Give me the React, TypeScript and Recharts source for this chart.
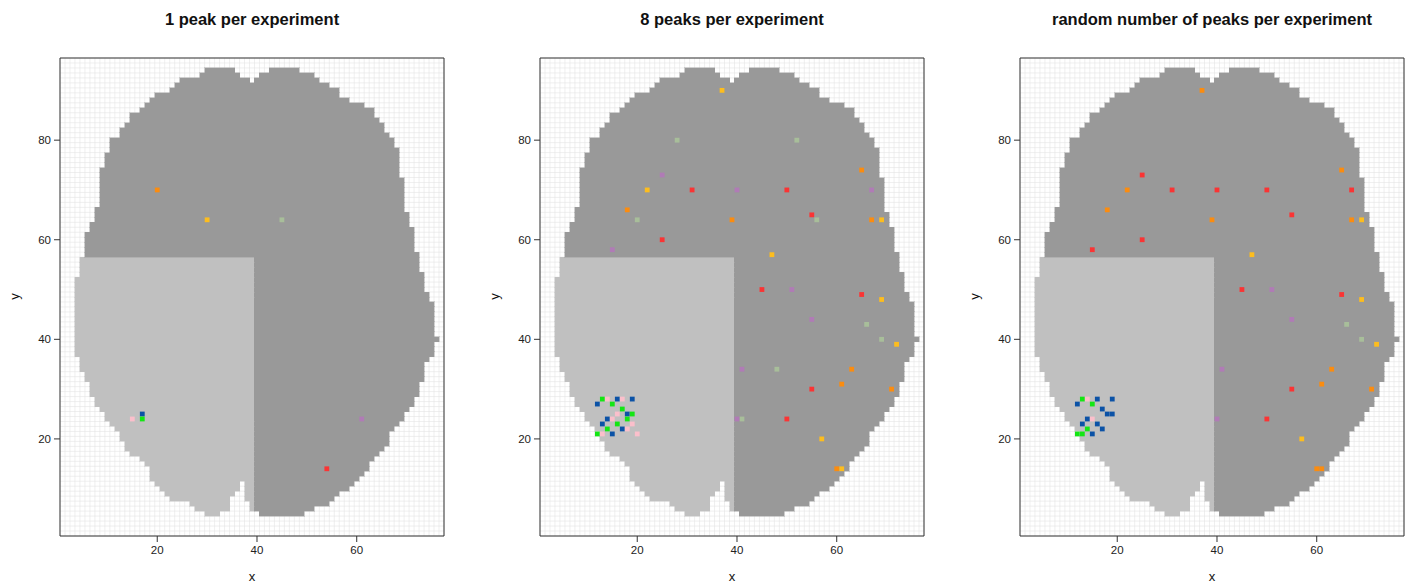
import React from 'react';
import { ScatterChart, Scatter, XAxis, YAxis, CartesianGrid, ReferenceArea } from 'recharts';

// mask of the slice: first and last filled column for rows y = 5 .. 94
const firstRow = 5;
const leftEdge = [
  30, 28, 27, 23, 22, 21, 20, 19, 19, 19,
  18, 17, 15, 14, 14, 13, 13, 12, 11, 10,
  10, 9, 8, 8, 7, 7, 7, 6, 6, 5,
  5, 5, 4, 4, 4, 4, 4, 4, 4, 4,
  4, 4, 4, 4, 4, 4, 4, 4, 5, 5,
  5, 5, 6, 6, 6, 6, 6, 7, 7, 8,
  8, 8, 9, 9, 9, 9, 9, 9, 9, 9,
  10, 10, 10, 11, 11, 11, 13, 13, 14, 15,
  15, 17, 18, 19, 20, 23, 24, 25, 29, 30,
];
const rightEdge = [
  49, 51, 54, 55, 56, 58, 59, 60, 61, 62,
  62, 63, 64, 65, 66, 66, 66, 67, 68, 69,
  69, 70, 71, 71, 72, 72, 72, 73, 73, 73,
  73, 74, 75, 75, 75, 76, 75, 75, 75, 75,
  75, 75, 75, 74, 74, 73, 73, 73, 73, 72,
  72, 72, 72, 71, 71, 71, 71, 71, 70, 70,
  70, 69, 69, 69, 69, 69, 69, 69, 68, 68,
  68, 68, 68, 68, 67, 67, 66, 65, 65, 64,
  63, 63, 61, 58, 56, 56, 54, 52, 51, 48,
];
// empty cells inside a row: [y, fromX, toX]
const gaps = [
  [5, 33, 40], [6, 35, 38], [7, 35, 38], [8, 35, 37], [9, 36, 37], [10, 37, 37], [11, 37, 37],
  [92, 39, 39], [93, 37, 40], [94, 36, 42],
];
// lighter region (lower left quarter)
const lightTop = 56;
const lightRight = 39;

const xTicks = [20, 40, 60];
const yTicks = [20, 40, 60, 80];
const xDomain = [0.5, 77.5];
const yDomain = [0.5, 96.5];

const expColors: Record<string, string> = {
  red: '#FA3434',
  orange: '#FB8C0F',
  gold: '#FDBD1E',
  sage: '#A8BE9A',
  violet: '#B07BB6',
  blue: '#0B52A6',
  green: '#14E614',
  pink: '#FBBFCB',
};

const onePeak: [number, number, string][] = [
  [20, 70, 'orange'], [30, 64, 'gold'], [45, 64, 'sage'], [17, 25, 'blue'],
  [17, 24, 'green'], [15, 24, 'pink'], [61, 24, 'violet'], [54, 14, 'red'],
];

const eightPeaks: [number, number, string][] = [
  [31, 70, 'red'], [25, 60, 'red'], [50, 70, 'red'], [55, 65, 'red'], [45, 50, 'red'], [65, 49, 'red'], [55, 30, 'red'], [50, 24, 'red'],
  [18, 66, 'orange'], [39, 64, 'orange'], [65, 74, 'orange'], [67, 64, 'orange'], [63, 34, 'orange'], [61, 31, 'orange'], [71, 30, 'orange'], [60, 14, 'orange'],
  [37, 90, 'gold'], [22, 70, 'gold'], [69, 64, 'gold'], [47, 57, 'gold'], [69, 48, 'gold'], [72, 39, 'gold'], [57, 20, 'gold'], [61, 14, 'gold'],
  [28, 80, 'sage'], [20, 64, 'sage'], [52, 80, 'sage'], [56, 64, 'sage'], [66, 43, 'sage'], [69, 40, 'sage'], [48, 34, 'sage'], [41, 24, 'sage'],
  [25, 73, 'violet'], [40, 70, 'violet'], [15, 58, 'violet'], [67, 70, 'violet'], [51, 50, 'violet'], [55, 44, 'violet'], [41, 34, 'violet'], [40, 24, 'violet'],
  [16, 28, 'blue'], [19, 28, 'blue'], [12, 27, 'blue'], [18, 25, 'blue'], [14, 24, 'blue'], [13, 23, 'blue'], [17, 22, 'blue'], [15, 21, 'blue'],
  [13, 28, 'green'], [15, 27, 'green'], [17, 26, 'green'], [19, 25, 'green'], [18, 24, 'green'], [16, 23, 'green'], [14, 22, 'green'], [12, 21, 'green'],
  [14, 28, 'pink'], [17, 28, 'pink'], [16, 25, 'pink'], [15, 24, 'pink'], [19, 23, 'pink'], [18, 22, 'pink'], [13, 21, 'pink'], [20, 21, 'pink'],
];

const randomPeaks: [number, number, string][] = [
  [37, 90, 'orange'], [22, 70, 'orange'], [18, 66, 'orange'], [39, 64, 'orange'], [65, 74, 'orange'], [67, 64, 'orange'],
  [63, 34, 'orange'], [61, 31, 'orange'], [71, 30, 'orange'], [60, 14, 'orange'], [61, 14, 'orange'],
  [25, 73, 'red'], [31, 70, 'red'], [40, 70, 'red'], [25, 60, 'red'], [15, 58, 'red'], [50, 70, 'red'],
  [67, 70, 'red'], [55, 65, 'red'], [45, 50, 'red'], [65, 49, 'red'], [55, 30, 'red'], [50, 24, 'red'],
  [69, 64, 'gold'], [47, 57, 'gold'], [69, 48, 'gold'], [72, 39, 'gold'], [57, 20, 'gold'],
  [51, 50, 'violet'], [55, 44, 'violet'], [41, 34, 'violet'], [40, 24, 'violet'],
  [66, 43, 'sage'], [69, 40, 'sage'],
  [16, 28, 'blue'], [19, 28, 'blue'], [12, 27, 'blue'], [17, 26, 'blue'], [18, 25, 'blue'], [19, 25, 'blue'],
  [14, 24, 'blue'], [13, 23, 'blue'], [16, 23, 'blue'], [17, 22, 'blue'], [15, 21, 'blue'],
  [13, 28, 'green'], [15, 27, 'green'], [14, 22, 'green'], [12, 21, 'green'], [13, 21, 'green'],
  [14, 28, 'pink'], [15, 24, 'pink'],
];

const panels = [
  { title: '1 peak per experiment', peaks: onePeak },
  { title: '8 peaks per experiment', peaks: eightPeaks },
  { title: 'random number of peaks per experiment', peaks: randomPeaks },
];

const DARK = '#999999';
const LIGHT = '#C0C0C0';
const FONT = '"Liberation Sans", Arial, Helvetica, sans-serif';

// build horizontal runs of filled cells
type Span = { y: number; x1: number; x2: number; light: boolean };
const spans: Span[] = [];
leftEdge.forEach((l, i) => {
  const y = firstRow + i;
  let pieces: number[][] = [[l, rightEdge[i]]];
  gaps.filter((g) => g[0] === y).forEach(([, a, b]) => {
    pieces = pieces.flatMap(([s, e]) => {
      if (b < s || a > e) return [[s, e]];
      const out: number[][] = [];
      if (a > s) out.push([s, a - 1]);
      if (b < e) out.push([b + 1, e]);
      return out;
    });
  });
  pieces.forEach(([s, e]) => {
    if (y <= lightTop && s <= lightRight) {
      spans.push({ y, x1: s, x2: Math.min(e, lightRight), light: true });
      if (e > lightRight) spans.push({ y, x1: lightRight + 1, x2: e, light: false });
    } else {
      spans.push({ y, x1: s, x2: e, light: false });
    }
  });
});

const gridX: number[] = [];
for (let v = xDomain[0]; v <= xDomain[1]; v += 1) gridX.push(v);
const gridY: number[] = [];
for (let v = yDomain[0]; v <= yDomain[1]; v += 1) gridY.push(v);

const colorKeys = Object.keys(expColors);

const cellShape = (color: string) => (props: any) => {
  const { cx, cy } = props;
  if (cx == null || cy == null) return <g />;
  return <rect x={cx - 2.4} y={cy - 2.4} width={4.8} height={4.8} fill={color} />;
};

const areaShape = (color: string) => (props: any) => (
  <rect x={props.x} y={props.y} width={props.width} height={props.height} fill={color}
    stroke={color} strokeWidth={0.4} shapeRendering="crispEdges" />
);
const darkShape = areaShape(DARK);
const lightShape = areaShape(LIGHT);

const mapX = (p: any) => {
  const sc = p.xAxis && p.xAxis.scale;
  if (typeof sc === 'function') return gridX.map((v) => sc(v));
  const o = p.offset;
  return gridX.map((v) => o.left + ((v - xDomain[0]) / (xDomain[1] - xDomain[0])) * o.width);
};
const mapY = (p: any) => {
  const sc = p.yAxis && p.yAxis.scale;
  if (typeof sc === 'function') return gridY.map((v) => sc(v));
  const o = p.offset;
  return gridY.map((v) => o.top + ((yDomain[1] - v) / (yDomain[1] - yDomain[0])) * o.height);
};

const Panel: React.FC<{ title: string; peaks: [number, number, string][]; left: number }> = ({ title, peaks, left }) => (
  <div style={{ position: 'absolute', left, top: 0, width: 480, height: 588 }}>
    <div style={{ position: 'absolute', left: 0, width: 504, top: 10, textAlign: 'center', fontFamily: FONT, fontWeight: 'bold', fontSize: 16.5, color: '#111' }}>
      {title}
    </div>
    <ScatterChart width={480} height={588} margin={{ top: 52, right: 30, bottom: 0, left: 0 }}>
      <CartesianGrid stroke="#E4E4E4" strokeWidth={0.6}
        verticalCoordinatesGenerator={mapX} horizontalCoordinatesGenerator={mapY} />
      <XAxis xAxisId={0} type="number" dataKey="x" domain={xDomain} ticks={xTicks} allowDataOverflow height={52}
        tickSize={6} tickMargin={4} axisLine={{ stroke: '#333' }} tickLine={{ stroke: '#333' }}
        tick={{ fontSize: 11.5, fill: '#222', fontFamily: FONT }} />
      <YAxis yAxisId={0} type="number" dataKey="y" domain={yDomain} ticks={yTicks} allowDataOverflow width={60}
        tickSize={6} tickMargin={3} axisLine={{ stroke: '#333' }} tickLine={{ stroke: '#333' }}
        tick={{ fontSize: 11.5, fill: '#222', fontFamily: FONT }} />
      <XAxis xAxisId="top" orientation="top" type="number" domain={xDomain} ticks={xTicks} allowDataOverflow height={6}
        tickSize={6} tick={false} axisLine={{ stroke: '#333' }} tickLine={{ stroke: '#333' }} />
      <YAxis yAxisId="right" orientation="right" type="number" domain={yDomain} ticks={yTicks} allowDataOverflow width={6}
        tickSize={6} tick={false} axisLine={{ stroke: '#333' }} tickLine={{ stroke: '#333' }} />
      {spans.map((s, i) => (
        <ReferenceArea key={i} xAxisId={0} yAxisId={0} x1={s.x1 - 0.5} x2={s.x2 + 0.5} y1={s.y - 0.5} y2={s.y + 0.5}
          fill={s.light ? LIGHT : DARK} fillOpacity={1} ifOverflow="visible"
          shape={s.light ? lightShape : darkShape} />
      ))}
      {colorKeys.map((k) => {
        const data = peaks.filter((p) => p[2] === k).map((p) => ({ x: p[0], y: p[1] }));
        if (!data.length) return null;
        return (
          <Scatter key={k} xAxisId={0} yAxisId={0} data={data} fill={expColors[k]} shape={cellShape(expColors[k])} isAnimationActive={false} />
        );
      })}
    </ScatterChart>
    <div style={{ position: 'absolute', left: 0, width: 504, top: 569, textAlign: 'center', fontFamily: FONT, fontSize: 13, color: '#111' }}>x</div>
    <div style={{ position: 'absolute', left: 11, top: 289, fontFamily: FONT, fontSize: 13, color: '#111', transform: 'rotate(-90deg)' }}>y</div>
  </div>
);

export default function App() {
  return (
    <div style={{ position: 'absolute', left: 0, top: 0, width: 1411, height: 588, background: '#fff', overflow: 'hidden' }}>
      {panels.map((p, i) => (
        <Panel key={i} title={p.title} peaks={p.peaks} left={i * 480} />
      ))}
    </div>
  );
}
